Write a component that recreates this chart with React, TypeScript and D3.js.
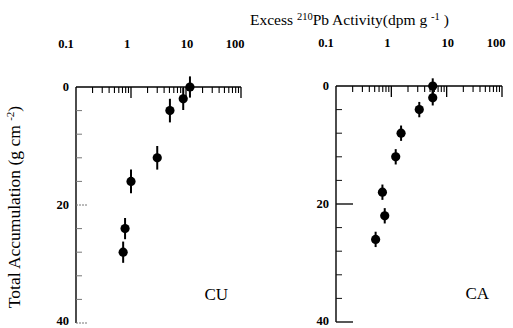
import React from "react";
import * as d3 from "d3";

// ---- data ----
const xTickValues = [0.1, 1, 10, 100];
const xTickLabels = ["0.1", "1", "10", "100"];
const yTickValues = [0, 20, 40];
const yTickLabels = ["0", "20", "40"];

const cuActivity = [11.8, 8.9, 5.1, 3.0, 1.0, 0.78, 0.72];
const cuDepth = [0, 2, 4, 12, 16, 24, 28];
const cuErr = [1.8, 1.9, 2.0, 2.0, 2.0, 1.8, 1.8];

const caActivity = [5.6, 5.6, 3.2, 1.5, 1.2, 0.69, 0.76, 0.52];
const caDepth = [0, 2, 4, 8, 12, 18, 22, 26];
const caErr = [1.3, 1.3, 1.3, 1.3, 1.3, 1.3, 1.3, 1.3];

const FONT = "'Liberation Serif', 'DejaVu Serif', serif";

type PanelProps = {
  name: string;
  activity: number[];
  depth: number[];
  err: number[];
  x0: number;
  x1: number;
  y0: number;
  y1: number;
  faintTicks: boolean;
};

function Panel({ name, activity, depth, err, x0, x1, y0, y1, faintTicks }: PanelProps) {
  const x = d3.scaleLog().domain([0.1, 100]).range([x0, x1]);
  const y = d3.scaleLinear().domain([0, 40]).range([y0, y1]);
  const minor: number[] = [];
  [0.1, 1, 10].forEach((d) => {
    for (let k = 2; k <= 9; k++) minor.push(d * k);
  });
  const yMinor = d3.range(4, 40, 4).filter((v) => v !== 20);
  const labelOffsets = [-10, -4, 1, -6];
  const tickCol = faintTicks ? "#777" : "#111";
  return (
    <g>
      <line x1={x0} x2={x1} y1={y0} y2={y0} stroke="#000" strokeWidth={1.6} />
      <line x1={x0} x2={x0} y1={y0} y2={y1} stroke="#000" strokeWidth={1.4} />
      {minor.map((v, i) => (
        <line key={"m" + i} x1={x(v)} x2={x(v)} y1={y0} y2={y0 + 6} stroke="#000" strokeWidth={1.1} />
      ))}
      {xTickValues.map((v, i) => (
        <line key={"M" + i} x1={x(v)} x2={x(v)} y1={y0} y2={y0 + (i === 0 ? 0 : 11)} stroke="#000" strokeWidth={1.3} />
      ))}
      {xTickValues.map((v, i) => (
        <text
          key={"xl" + i}
          x={x(v) + labelOffsets[i]}
          y={y0 - 39}
          textAnchor="middle"
          fontFamily={FONT}
          fontWeight="bold"
          fontSize={12.5}
        >
          {xTickLabels[i]}
        </text>
      ))}
      {yMinor.map((v, i) => (
        <line key={"ym" + i} x1={x0} x2={x0 + 6} y1={y(v)} y2={y(v)} stroke={tickCol} strokeWidth={1} />
      ))}
      {yTickValues.slice(1).map((v, i) => (
        <line key={"yM" + i} x1={x0} x2={x0 + (faintTicks ? 12 : 17)} y1={y(v)} y2={y(v)} stroke={tickCol} strokeWidth={faintTicks ? 1 : 1.4} strokeDasharray={faintTicks ? "2,1" : undefined} />
      ))}
      {yTickValues.map((v, i) => (
        <text
          key={"yl" + i}
          x={x0 - 7}
          y={Math.min(y(v) + 4, 325)}
          textAnchor="end"
          fontFamily={FONT}
          fontWeight="bold"
          fontSize={12.5}
        >
          {yTickLabels[i]}
        </text>
      ))}
      {activity.map((a, i) => (
        <line
          key={"e" + i}
          x1={x(a)}
          x2={x(a)}
          y1={y(depth[i] - err[i])}
          y2={y(depth[i] + err[i])}
          stroke="#000"
          strokeWidth={2}
        />
      ))}
      {activity.map((a, i) => (
        <circle key={"p" + i} cx={x(a)} cy={y(depth[i])} r={4.6} fill="#000" />
      ))}
      <text x={x1 - 13} y={y(35) + 6} textAnchor="end" fontFamily={FONT} fontSize={17}>
        {name}
      </text>
    </g>
  );
}

export default function App() {
  return (
    <svg
      width={513}
      height={328}
      style={{ position: "absolute", left: 0, top: 0, background: "#fff" }}
    >
      <rect width={513} height={328} fill="#fff" />
      <text x={250} y={25} fontFamily={FONT} fontSize={15.5}>
        Excess <tspan fontSize={10.5} dy={-5}>210</tspan>
        <tspan dy={5}>Pb Activity(dpm g </tspan>
        <tspan fontSize={10.5} dy={-5}>-1</tspan>
        <tspan dy={5}> )</tspan>
      </text>
      <text
        transform="translate(20,207) rotate(-90)"
        textAnchor="middle"
        fontFamily={FONT}
        fontSize={17.5}
      >
        Total Accumulation (g cm <tspan fontSize={11} dy={-6}>-2</tspan>
        <tspan dy={6}>)</tspan>
      </text>
      <Panel name="CU" activity={cuActivity} depth={cuDepth} err={cuErr} x0={76} x1={241} y0={87} y1={323} faintTicks={true} />
      <Panel name="CA" activity={caActivity} depth={caDepth} err={caErr} x0={336} x1={502} y0={86} y1={322} faintTicks={false} />
    </svg>
  );
}
